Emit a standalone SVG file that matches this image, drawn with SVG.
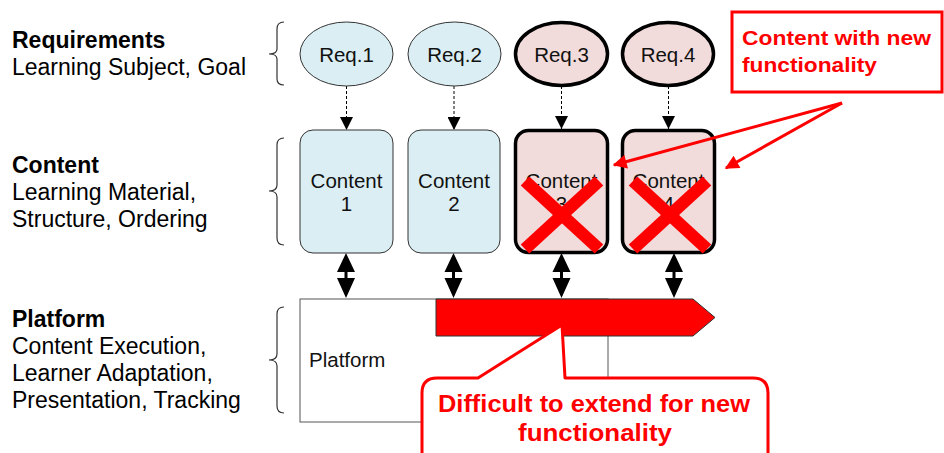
<svg xmlns="http://www.w3.org/2000/svg" width="944" height="453" viewBox="0 0 944 453">
  <style>
    .lbl { font-family: "Liberation Sans", Arial, sans-serif; font-size: 23px; fill: #000; }
    .lbl-b { font-weight: bold; }
    .node-t { font-family: "Liberation Sans", Arial, sans-serif; font-size: 20.5px; fill: #111; text-anchor: middle; }
    .brace { fill: none; stroke: #333; stroke-width: 1.2; }
    .req-old { fill: #DAEEF3; stroke: #333; stroke-width: 1; }
    .req-new { fill: #F2DCDB; stroke: #000; stroke-width: 3.5; }
    .box-old { fill: #DAEEF3; stroke: #333; stroke-width: 1; }
    .box-new { fill: #F2DCDB; stroke: #000; stroke-width: 3.5; }
    .dash { stroke: #000; stroke-width: 1; stroke-dasharray: 3 2; fill: none; }
    .cross { stroke: #FF0000; stroke-width: 12.5; }
    .red-t { font-family: "Liberation Sans", Arial, sans-serif; font-weight: bold; fill: #FF0000; }
    .red-line { stroke: #FF0000; stroke-width: 3; fill: none; }
  </style>
  <defs>
    <marker id="tri" viewBox="0 0 10 10" refX="10" refY="5" markerWidth="13" markerHeight="13" markerUnits="userSpaceOnUse" orient="auto">
      <path d="M0,0 L10,5 L0,10 Z" fill="#000"/>
    </marker>
    <marker id="redhead" viewBox="0 0 10 10" refX="9" refY="5" markerWidth="16" markerHeight="14" markerUnits="userSpaceOnUse" orient="auto">
      <path d="M0,0 L10,5 L0,10 Z" fill="#FF0000"/>
    </marker>
    <!-- two-headed thick connector between content and platform -->
    <path id="dbl" d="M0,0 L9,19 L1.5,19 L1.5,25 L9,25 L0,45 L-9,25 L-1.5,25 L-1.5,19 L-9,19 Z" fill="#000"/>
  </defs>

  <!-- layer labels -->
  <g id="label-requirements">
    <text class="lbl lbl-b" x="12" y="48">Requirements</text>
    <text class="lbl" x="12" y="74.5">Learning Subject, Goal</text>
    <path class="brace" d="M284,22 Q277,22 277,29 L277,49 Q277,54 269,54 Q277,54 277,59 L277,79 Q277,85 284,85"/>
  </g>
  <g id="label-content">
    <text class="lbl lbl-b" x="12" y="173">Content</text>
    <text class="lbl" x="12" y="200">Learning Material,</text>
    <text class="lbl" x="12" y="226.5">Structure, Ordering</text>
    <path class="brace" d="M284,138 Q277,138 277,145 L277,185 Q277,191 269,191 Q277,191 277,197 L277,238 Q277,245 284,245"/>
  </g>
  <g id="label-platform">
    <text class="lbl lbl-b" x="12" y="327">Platform</text>
    <text class="lbl" x="12" y="354">Content Execution,</text>
    <text class="lbl" x="12" y="381">Learner Adaptation,</text>
    <text class="lbl" x="12" y="408">Presentation, Tracking</text>
    <path class="brace" d="M284,307 Q277,307 277,314 L277,354 Q277,360 269,360 Q277,360 277,366 L277,406 Q277,413 284,413"/>
  </g>

  <!-- connectors -->
  <g id="connectors">
    <line class="dash" x1="346.5" y1="86" x2="346.5" y2="130" marker-end="url(#tri)"/>
    <line class="dash" x1="454" y1="86" x2="454" y2="130" marker-end="url(#tri)"/>
    <line class="dash" x1="561.5" y1="86" x2="561.5" y2="129" marker-end="url(#tri)"/>
    <line class="dash" x1="668.5" y1="86" x2="668.5" y2="129" marker-end="url(#tri)"/>
    <use href="#dbl" x="346" y="253"/>
    <use href="#dbl" x="453.5" y="253"/>
    <use href="#dbl" x="561.5" y="253"/>
    <use href="#dbl" x="674" y="253"/>
  </g>

  <!-- requirement nodes -->
  <g id="req1"><ellipse class="req-old" cx="346.5" cy="54" rx="46.5" ry="32"/><text class="node-t" x="346.5" y="61.5">Req.1</text></g>
  <g id="req2"><ellipse class="req-old" cx="454.5" cy="54" rx="46.5" ry="32"/><text class="node-t" x="454.5" y="61.5">Req.2</text></g>
  <g id="req3"><ellipse class="req-new" cx="561.5" cy="54" rx="46" ry="31.5"/><text class="node-t" x="561.5" y="61.5">Req.3</text></g>
  <g id="req4"><ellipse class="req-new" cx="668" cy="54" rx="45.5" ry="31.5"/><text class="node-t" x="668" y="61.5">Req.4</text></g>

  <!-- content nodes -->
  <g id="content1">
    <rect class="box-old" x="300" y="130" width="93" height="123" rx="13"/>
    <text class="node-t" x="346.5" y="188">Content</text>
    <text class="node-t" x="346.5" y="211">1</text>
  </g>
  <g id="content2">
    <rect class="box-old" x="408" y="130" width="92" height="123" rx="13"/>
    <text class="node-t" x="454" y="188">Content</text>
    <text class="node-t" x="454" y="211">2</text>
  </g>
  <g id="content3">
    <rect class="box-new" x="515.5" y="130.5" width="92" height="122" rx="13"/>
    <text class="node-t" x="561.5" y="188">Content</text>
    <text class="node-t" x="561.5" y="211">3</text>
    <line class="cross" x1="525" y1="181" x2="599" y2="249"/>
    <line class="cross" x1="599" y1="181" x2="525" y2="249"/>
  </g>
  <g id="content4">
    <rect class="box-new" x="622.5" y="130.5" width="92" height="122" rx="13"/>
    <text class="node-t" x="668.5" y="188">Content</text>
    <text class="node-t" x="668.5" y="211">4</text>
    <line class="cross" x1="633" y1="181" x2="707" y2="249"/>
    <line class="cross" x1="707" y1="181" x2="633" y2="249"/>
  </g>

  <!-- platform node -->
  <g id="platform">
    <rect x="300" y="299" width="308" height="123" fill="#fff" stroke="#555" stroke-width="1"/>
    <text x="309" y="367" font-family="Liberation Sans, Arial, sans-serif" font-size="20.5" fill="#111">Platform</text>
    <polygon points="436,299 693,299 715,317.5 693,336 436,336" fill="#FF0000" stroke="#333" stroke-width="1"/>
  </g>

  <!-- callout: content with new functionality -->
  <g id="note-content">
    <rect x="732" y="12" width="210" height="80" fill="#fff" stroke="#FF0000" stroke-width="3"/>
    <text class="red-t" x="742" y="45" font-size="21" textLength="189" lengthAdjust="spacingAndGlyphs">Content with new</text>
    <text class="red-t" x="742" y="72" font-size="21" textLength="135" lengthAdjust="spacingAndGlyphs">functionality</text>
    <line class="red-line" x1="842" y1="103" x2="614" y2="165" marker-end="url(#redhead)"/>
    <line class="red-line" x1="842" y1="103" x2="726" y2="168" marker-end="url(#redhead)"/>
  </g>

  <!-- callout: platform hard to extend -->
  <g id="note-platform">
    <path d="M437,378 L478,378 L562,325 L565,378 L753,378 Q768,378 768,393 L768,470 L422,470 L422,393 Q422,378 437,378 Z" fill="#fff" stroke="#FF0000" stroke-width="3" stroke-linejoin="round"/>
    <text class="red-t" x="594" y="412" font-size="24.5" text-anchor="middle" textLength="312" lengthAdjust="spacingAndGlyphs">Difficult to extend for new</text>
    <text class="red-t" x="595" y="441" font-size="24.5" text-anchor="middle" textLength="154" lengthAdjust="spacingAndGlyphs">functionality</text>
  </g>
</svg>
